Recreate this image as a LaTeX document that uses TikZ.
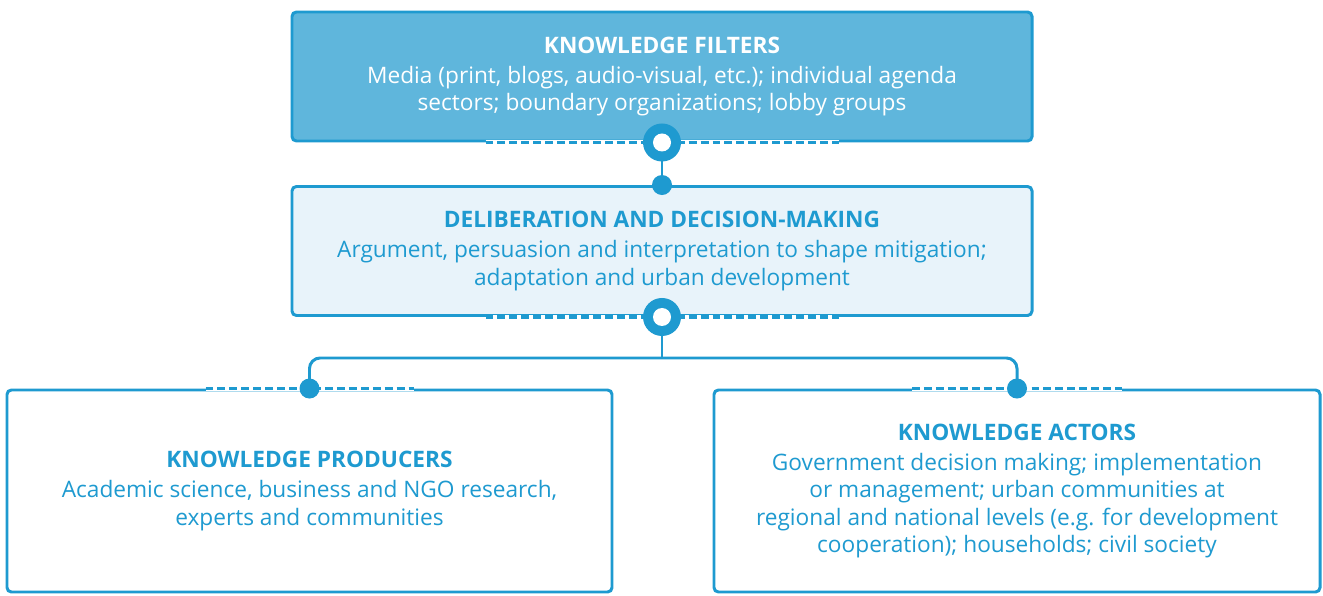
\documentclass[tikz,border=0pt]{standalone}
\usepackage{fontspec}
\setmainfont{Open Sans}
\usepackage{xcolor}
\usepackage{tikz}
\definecolor{kblue}{RGB}{30,154,208}
\definecolor{kfill}{RGB}{95,182,220}
\definecolor{kpale}{RGB}{232,243,250}
\tikzset{
  kbox/.style={draw=kblue,line width=1.7pt,rounded corners=2.5pt,align=center,
    font=\fontsize{12.9}{15.7}\selectfont,inner sep=0pt},
  kdash/.style={kblue,line width=1.8pt,dash pattern=on 4.5pt off 2.3pt},
  klink/.style={kblue,line width=1.7pt},
}
\newcommand{\kring}[1]{\fill[kblue] (#1) circle (0.38); \fill[white] (#1) circle (0.18);}
\newcommand{\kdot}[1]{\fill[kblue] (#1) circle (0.2);}
\begin{document}
\begin{tikzpicture}
  \useasboundingbox (0,0) rectangle (26.46,-11.92);
  % --- the two stacked boxes
  \node[kbox,fill=kfill,text=white,minimum width=14.8cm,minimum height=2.58cm]
    (filters) at (13.24,-1.53)
    {{\bfseries KNOWLEDGE FILTERS}\\[1.5pt]Media (print, blogs, audio-visual, etc.); individual agenda\\sectors; boundary organizations; lobby groups};
  \node[kbox,fill=kpale,text=kblue,minimum width=14.8cm,minimum height=2.58cm]
    (deliberation) at (13.24,-5.02)
    {{\bfseries DELIBERATION AND DECISION-MAKING}\\[1.5pt]Argument, persuasion and interpretation to shape mitigation;\\adaptation and urban development};
  % --- the two boxes below
  \node[kbox,fill=white,text=kblue,minimum width=12.1cm,minimum height=4.04cm]
    (producers) at (6.19,-9.82)
    {{\bfseries KNOWLEDGE PRODUCERS}\\[1.5pt]Academic science, business and NGO research,\\experts and communities};
  \node[kbox,fill=white,text=kblue,minimum width=12.12cm,minimum height=4.04cm]
    (actors) at (20.34,-9.82)
    {{\bfseries KNOWLEDGE ACTORS}\\[1.5pt]Government decision making; implementation\\or management; urban communities at\\regional and national levels (e.g. for development\\cooperation); households; civil society};
  % --- dashed parts of the borders
  \draw[white,line width=2.4pt] ([xshift=-3.53cm]filters.south) -- ([xshift=3.53cm]filters.south);
  \draw[kdash] ([xshift=-3.53cm]filters.south) -- ([xshift=3.53cm]filters.south);
  \draw[white,line width=2.4pt] ([xshift=-3.53cm]deliberation.south) -- ([xshift=3.53cm]deliberation.south);
  \draw[kdash] ([xshift=-3.53cm]deliberation.south) -- ([xshift=3.53cm]deliberation.south);
  \draw[white,line width=2.4pt] ([xshift=-2.08cm]producers.north) -- ([xshift=2.08cm]producers.north);
  \draw[kdash] ([xshift=-2.08cm]producers.north) -- ([xshift=2.08cm]producers.north);
  \draw[white,line width=2.4pt] ([xshift=-2.1cm]actors.north) -- ([xshift=2.1cm]actors.north);
  \draw[kdash] ([xshift=-2.1cm]actors.north) -- ([xshift=2.1cm]actors.north);
  % --- connectors
  \coordinate (split) at (13.24,-7.16);
  \draw[klink] (filters.south) -- (deliberation.north);
  \draw[klink] (deliberation.south) -- (split);
  \draw[klink,rounded corners=6pt] (producers.north) |- (split) -| (actors.north);
  \kring{filters.south}
  \kdot{deliberation.north}
  \kring{deliberation.south}
  \kdot{producers.north}
  \kdot{actors.north}
\end{tikzpicture}
\end{document}
